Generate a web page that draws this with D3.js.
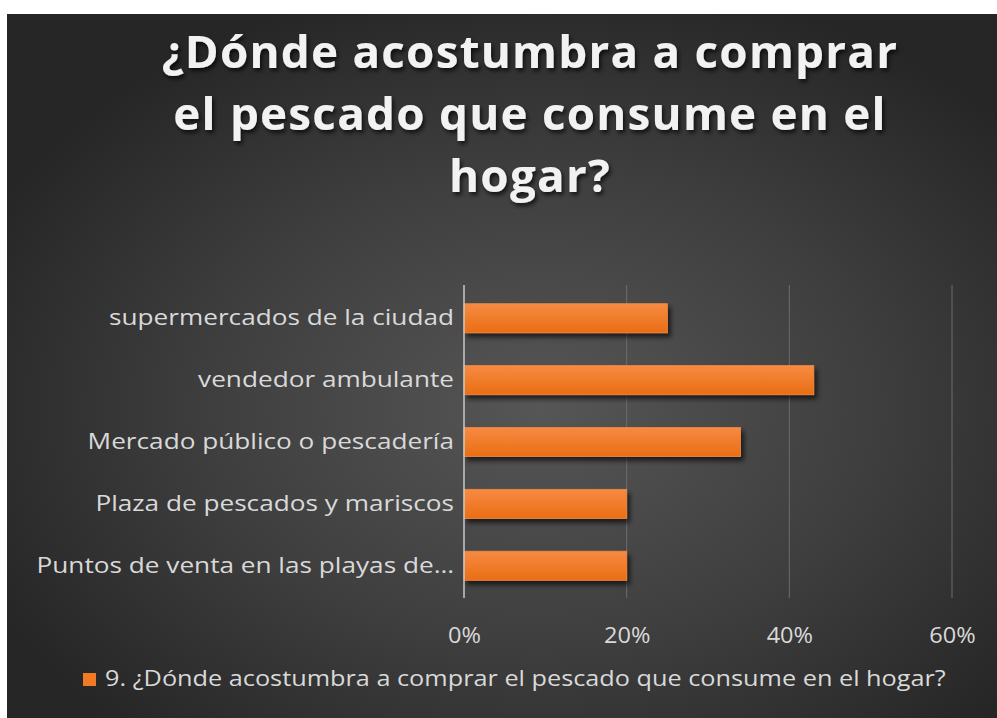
<!DOCTYPE html>
<html>
<head>
<meta charset="utf-8">
<script src="https://cdn.jsdelivr.net/npm/d3@7/dist/d3.min.js"></script>
<style>
  html, body { margin: 0; padding: 0; background: #ffffff; }
  svg { display: block; }
</style>
</head>
<body>
<svg id="chart" width="997" height="718"></svg>
<script>
// Chart data
const titleLines = ["¿Dónde acostumbra a comprar", "el pescado que consume en el", "hogar?"];
const categories = [
  "supermercados de la ciudad",
  "vendedor ambulante",
  "Mercado público o pescadería",
  "Plaza de pescados y mariscos",
  "Puntos de venta en las playas de…"
];
const values = [0.25, 0.43, 0.34, 0.20, 0.20];
const tickValues = [0, 0.2, 0.4, 0.6];
const seriesName = "9. ¿Dónde acostumbra a comprar el pescado que consume en el hogar?";

const W = 997, H = 718;
const FONT = "'Open Sans', sans-serif";
const svg = d3.select("#chart");
const defs = svg.append("defs");

// Widen glyphs horizontally by a factor, keeping the anchor point
function widen(sel, factor) {
  sel.each(function () {
    const len = this.getComputedTextLength();
    d3.select(this).attr("textLength", len * factor).attr("lengthAdjust", "spacingAndGlyphs");
  });
}

// Dark radial background
const bg = defs.append("radialGradient").attr("id", "bgGrad")
  .attr("cx", "54%").attr("cy", "56%").attr("r", "62%");
bg.append("stop").attr("offset", "0%").attr("stop-color", "#565656");
bg.append("stop").attr("offset", "55%").attr("stop-color", "#3e3e3e");
bg.append("stop").attr("offset", "100%").attr("stop-color", "#262626");

// Orange bar fill
const barGrad = defs.append("linearGradient").attr("id", "barGrad")
  .attr("x1", 0).attr("y1", 0).attr("x2", 0).attr("y2", 1);
barGrad.append("stop").attr("offset", "0%").attr("stop-color", "#f68b42");
barGrad.append("stop").attr("offset", "100%").attr("stop-color", "#ea6d14");

const shadow = defs.append("filter").attr("id", "barShadow")
  .attr("x", "-5%").attr("y", "-30%").attr("width", "115%").attr("height", "180%");
shadow.append("feDropShadow").attr("dx", 3).attr("dy", 4).attr("stdDeviation", 2.5)
  .attr("flood-color", "#000").attr("flood-opacity", 0.65);

const textShadow = defs.append("filter").attr("id", "textShadow")
  .attr("x", "-5%").attr("y", "-20%").attr("width", "115%").attr("height", "150%");
textShadow.append("feDropShadow").attr("dx", 2).attr("dy", 3).attr("stdDeviation", 2)
  .attr("flood-color", "#000").attr("flood-opacity", 0.7);

svg.append("rect").attr("x", 7).attr("y", 14).attr("width", W - 7).attr("height", H - 14)
  .attr("fill", "url(#bgGrad)");

// Title
const title = svg.append("g").attr("filter", "url(#textShadow)");
title.selectAll("text").data(titleLines).join("text")
  .attr("x", 530)
  .attr("y", (d, i) => 68 + i * 62)
  .attr("text-anchor", "middle")
  .attr("font-family", FONT)
  .attr("font-weight", 700)
  .attr("font-size", 44)
  .attr("letter-spacing", 1.2)
  .attr("fill", "#f2f2f2")
  .text(d => d)
  .call(widen, 1.04);

// Scales
const plot = { left: 464, right: 952, top: 287, bottom: 597 };
const x = d3.scaleLinear().domain([0, 0.6]).range([plot.left, plot.right]);
const y = d3.scaleBand().domain(categories).range([plot.top, plot.bottom])
  .paddingInner(0.53).paddingOuter(0.27);

// Gridlines
svg.append("g").selectAll("line").data(tickValues.filter(v => v > 0)).join("line")
  .attr("x1", d => x(d)).attr("x2", d => x(d))
  .attr("y1", plot.top - 2).attr("y2", plot.bottom + 1)
  .attr("stroke", "#6c6c6c").attr("stroke-width", 1);

// Bars
svg.append("g").selectAll("rect").data(categories).join("rect")
  .attr("x", x(0))
  .attr("y", d => y(d))
  .attr("width", (d, i) => x(values[i]) - x(0))
  .attr("height", y.bandwidth())
  .attr("fill", "url(#barGrad)")
  .attr("stroke", "#f08a45").attr("stroke-width", 0.8)
  .attr("filter", "url(#barShadow)");

// Category axis line
svg.append("line")
  .attr("x1", x(0)).attr("x2", x(0))
  .attr("y1", plot.top - 2).attr("y2", plot.bottom + 1)
  .attr("stroke", "#c8c8c8").attr("stroke-width", 1.5);

// Category labels
const yAxis = d3.axisLeft(y).tickSize(0).tickPadding(9);
const yg = svg.append("g").attr("transform", `translate(${x(0) - 1},0)`).call(yAxis);
yg.select(".domain").remove();
yg.selectAll("text")
  .attr("font-family", FONT)
  .attr("font-size", 22)
  .attr("fill", "#d9d9d9")
  .call(widen, 1.19);

// Value axis labels
const xAxis = d3.axisBottom(x).tickValues(tickValues).tickFormat(d3.format(".0%")).tickSize(0).tickPadding(0);
const xg = svg.append("g").attr("transform", `translate(0,627)`).call(xAxis);
xg.select(".domain").remove();
xg.selectAll("text")
  .attr("font-family", FONT)
  .attr("font-size", 22)
  .attr("fill", "#d9d9d9")
  .call(widen, 1.07);

// Legend
const legend = svg.append("g").attr("transform", "translate(83,673)");
legend.append("rect").attr("width", 13).attr("height", 13).attr("fill", "#f27a22");
legend.append("text").attr("x", 22).attr("y", 13)
  .attr("font-family", FONT)
  .attr("font-size", 21.5)
  .attr("fill", "#d9d9d9")
  .text(seriesName)
  .call(widen, 1.175);
</script>
</body>
</html>
